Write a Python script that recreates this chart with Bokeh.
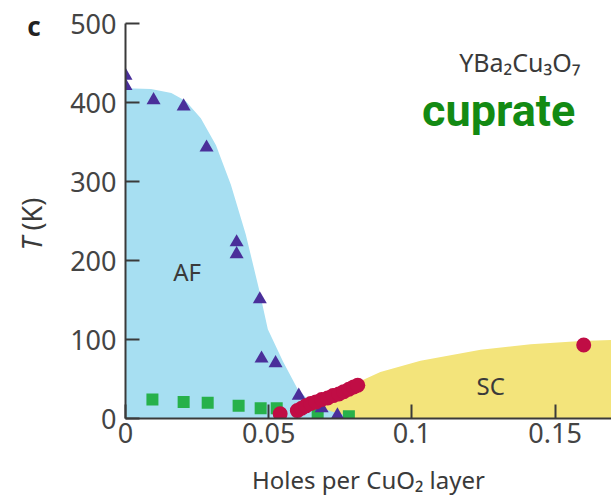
from bokeh.plotting import figure
from bokeh.models import Range1d, Label, FixedTicker
from bokeh.layouts import row
from bokeh.embed import file_html
from bokeh.resources import INLINE

# AF (antiferromagnetic) region boundary: holes per CuO2, T (K)
af_x = [0.0, 0.0089, 0.016, 0.021, 0.0263, 0.0316, 0.0368, 0.042, 0.0466, 0.0497, 0.055, 0.060, 0.065, 0.072, 0.079, 0.080]
af_T = [418, 417, 412, 402, 380, 346, 296, 233, 164, 113, 72, 38, 19, 9, 2, 0]

# SC (superconducting) dome boundary
sc_x = [0.055, 0.061, 0.072, 0.080, 0.089, 0.103, 0.124, 0.1415, 0.159, 0.170]
sc_T = [0, 10, 28, 44, 59, 73, 87, 94, 98, 99.5]

# Neel temperature (triangles)
tri_x = [0.0, 0.0, 0.0098, 0.0203, 0.0283, 0.0388, 0.0388, 0.0469, 0.0475, 0.0524, 0.0605, 0.0685, 0.0740]
tri_T = [434, 421, 403, 395, 343, 223, 208, 151, 76, 70, 29, 13, 4]

# spin-glass / freezing (squares)
sq_x = [0.0094, 0.0203, 0.0287, 0.0395, 0.0472, 0.0528, 0.0671, 0.0780]
sq_T = [24, 21, 20, 16, 13, 13, 6, 3]

# Tc (circles)
ci_x = [0.054, 0.0600, 0.0615, 0.0630, 0.0647, 0.0665, 0.0685, 0.0706, 0.0725, 0.0745, 0.0762, 0.0780, 0.0797, 0.0811, 0.160]
ci_T = [6, 10, 13, 16, 19, 21, 24, 26, 29, 31, 34, 37, 40, 42, 93]

x_ticks = [0, 0.05, 0.1, 0.15]
x_tick_labels = ["0", "0.05", "0.1", "0.15"]
y_ticks = [0, 100, 200, 300, 400, 500]

FONT = "Noto Sans"
TXT = "#3a3a3a"

# ---- narrow side panel holding the y-axis title and the panel letter ----
side = figure(width=60, height=498, output_backend="svg", toolbar_location=None,
              x_range=Range1d(0, 60), y_range=Range1d(498, 0),
              x_axis_type=None, y_axis_type=None, frame_align=False,
              min_border_left=0, min_border_right=0, min_border_top=0, min_border_bottom=0)
side.outline_line_color = None
side.grid.visible = False
side.add_layout(Label(x=31, y=250, text="T", angle=1.5708, text_font=FONT, text_font_size="27px",
                      text_font_style="italic", text_color=TXT, text_align="left", text_baseline="middle"))
side.add_layout(Label(x=31, y=230, text="(K)", angle=1.5708, text_font=FONT, text_font_size="27px",
                      text_color=TXT, text_align="left", text_baseline="middle"))
side.add_layout(Label(x=33.5, y=25, text="c", text_font=FONT, text_font_size="26px",
                      text_font_style="bold", text_color="#222222", text_align="center", text_baseline="middle"))

# ---- main chart ----
p = figure(width=551, height=498, output_backend="svg", toolbar_location=None,
           x_range=Range1d(0, 0.1697), y_range=Range1d(0, 500), frame_align=False,
           min_border_left=65, min_border_right=0, min_border_top=23, min_border_bottom=78)
p.outline_line_color = None
p.grid.visible = False
p.background_fill_color = "white"
p.border_fill_color = "white"

p.patch(sc_x + [sc_x[-1]], sc_T + [0], fill_color="#f3e47b", line_color=None)
p.patch(af_x + [0], af_T + [0], fill_color="#a7dff2", line_color=None)

p.scatter(sq_x, sq_T, marker="square", size=12, fill_color="#27b14b", line_color=None)
p.scatter(tri_x, tri_T, marker="triangle", size=14, fill_color="#4a2f9a", line_color=None)
p.scatter(ci_x, ci_T, marker="circle", size=15, fill_color="#c00d45", line_color=None)

for ax in (p.xaxis[0], p.yaxis[0]):
    ax.axis_line_color = "#3a3a3a"
    ax.axis_line_width = 2
    ax.major_tick_line_color = "#3a3a3a"
    ax.major_tick_line_width = 2
    ax.major_tick_in = 14
    ax.major_tick_out = 0
    ax.minor_tick_line_color = None
    ax.major_label_text_font = FONT
    ax.major_label_text_font_size = "27px"
    ax.major_label_text_color = "#444444"

p.xaxis[0].ticker = FixedTicker(ticks=x_ticks)
p.xaxis[0].major_label_overrides = {t: l for t, l in zip(x_ticks, x_tick_labels)}
p.xaxis[0].major_label_standoff = 4
p.xaxis[0].axis_label = "Holes per CuO₂ layer"
p.xaxis[0].axis_label_text_font = FONT
p.xaxis[0].axis_label_text_font_size = "24px"
p.xaxis[0].axis_label_text_font_style = "normal"
p.xaxis[0].axis_label_text_color = TXT
p.xaxis[0].axis_label_standoff = 17

p.yaxis[0].ticker = FixedTicker(ticks=y_ticks)
p.yaxis[0].major_label_standoff = 9

p.add_layout(Label(x=0.1165, y=451, text="YBa₂Cu₃O₇", text_font=FONT, text_font_size="25px",
                   text_color=TXT, text_align="left", text_baseline="middle"))
p.add_layout(Label(x=0.1303, y=390, text="cuprate", text_font="Roboto", text_font_size="45px",
                   text_font_style="bold", text_color="#138a13", text_align="center", text_baseline="middle"))
p.add_layout(Label(x=0.0215, y=186, text="AF", text_font=FONT, text_font_size="24px",
                   text_color=TXT, text_align="center", text_baseline="middle"))
p.add_layout(Label(x=0.1275, y=42, text="SC", text_font=FONT, text_font_size="24px",
                   text_color=TXT, text_align="center", text_baseline="middle"))

layout = row(side, p)
open("out.html", "w").write(file_html(layout, INLINE))
